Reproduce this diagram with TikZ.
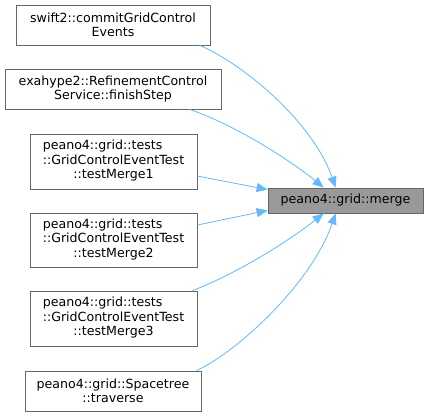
\documentclass[tikz,border=0pt]{standalone}
\usepackage{fontspec}
\setmainfont{DejaVu Sans}
\usetikzlibrary{arrows.meta,calc}
\definecolor{edgec}{HTML}{63B8FF}
\definecolor{boxc}{HTML}{666666}
\definecolor{tfill}{HTML}{999999}
\newcommand{\threel}[3]{\begin{tabular}{@{}l@{}}#1\\#2\\\multicolumn{1}{@{}c@{}}{#3}\end{tabular}}
\tikzset{
  fn/.style={draw=boxc,fill=white,line width=0.8pt,inner sep=0pt,align=center,font=\fontsize{12.6}{14.5}\selectfont},
  tg/.style={fn,fill=tfill},
  call/.style={draw=edgec,line width=0.8pt,-{Triangle[length=11pt,width=9pt]}}
}
\begin{document}
\begin{tikzpicture}[x=1pt,y=-1pt]
\useasboundingbox (0,0) rectangle (428,416);
\node[fn,minimum width=194pt,minimum height=40pt] (b1) at (113,25) {swift2::commitGridControl\\Events};
\node[fn,minimum width=216pt,minimum height=40pt] (b2) at (113,89) {exahype2::RefinementControl\\Service::finishStep};
\node[fn,minimum width=167pt,minimum height=55pt] (b3) at (113.5,161.5) {\threel{peano4::grid::tests}{::GridControlEventTest}{::testMerge1}};
\node[fn,minimum width=167pt,minimum height=54pt] (b4) at (113.5,240) {\threel{peano4::grid::tests}{::GridControlEventTest}{::testMerge2}};
\node[fn,minimum width=167pt,minimum height=55pt] (b5) at (113.5,318.5) {\threel{peano4::grid::tests}{::GridControlEventTest}{::testMerge3}};
\node[fn,minimum width=176pt,minimum height=40pt] (b6) at (113,391) {peano4::grid::Spacetree\\::traverse};
\node[tg,minimum width=155pt,minimum height=25pt] (t) at (345.5,200.5) {peano4::grid::merge};
\coordinate (s1) at ($(b1.south west)+(184,0)$);
\coordinate (s2) at ($(b2.south west)+(185,0)$);
\coordinate (s5) at ($(b5.north west)+(163,0)$);
\coordinate (s6) at ($(b6.north west)+(172,0)$);
\coordinate (e1) at ($(t.north west)+(68,0)$);
\coordinate (e2) at ($(t.north west)+(56,0)$);
\coordinate (e3) at ($(t.north west)+(0,2)$);
\coordinate (e4) at ($(t.south west)+(0,-3)$);
\coordinate (e5) at ($(t.south west)+(56,0)$);
\coordinate (e6) at ($(t.south west)+(68,0)$);
\draw[call] (s1) .. controls (240,62) and (312,120) .. (e1);
\draw[call] (s2) .. controls (235,125) and (290,160) .. (e2);
\draw[call] (b3.east |- 0,176) -- (e3);
\draw[call] (b4.east |- 0,225) -- (e4);
\draw[call] (s5) .. controls (240,272) and (290,240) .. (e5);
\draw[call] (s6) .. controls (240,350) and (312,282) .. (e6);
\end{tikzpicture}
\end{document}
